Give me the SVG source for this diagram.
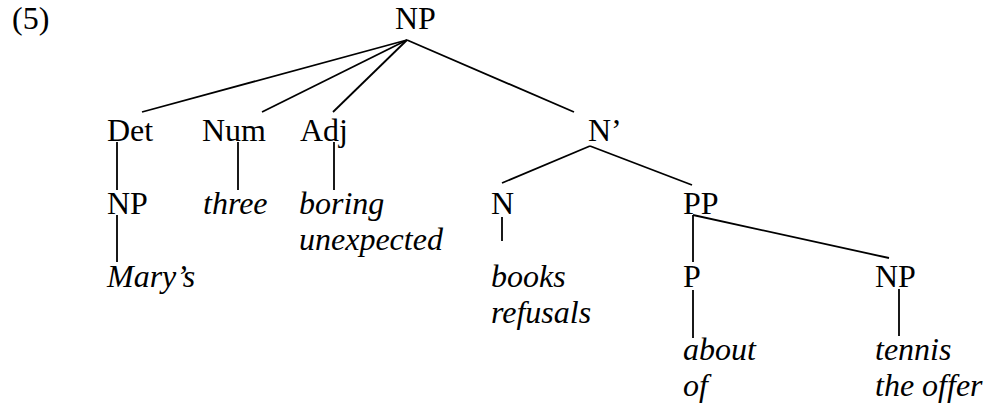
<svg xmlns="http://www.w3.org/2000/svg" width="984" height="406" viewBox="0 0 984 406">
<style>
text{font-family:"Liberation Serif","Times New Roman",serif;font-size:32px;fill:#000}
.i{font-style:italic}
.e line{stroke:#000;stroke-width:1.8;stroke-linecap:butt}
</style>
<rect width="984" height="406" fill="#fff"/>
<text x="12" y="29">(5)</text>
<g class="e" id="connectors">
<line x1="407" y1="40" x2="142" y2="112"/>
<line x1="407" y1="40" x2="262" y2="112"/>
<line x1="407" y1="40" x2="333" y2="112"/>
<line x1="407" y1="40" x2="574" y2="112"/>
<line x1="117" y1="142" x2="117" y2="190"/>
<line x1="238" y1="142" x2="238" y2="190"/>
<line x1="334" y1="142" x2="334" y2="190"/>
<line x1="117" y1="215" x2="117" y2="262"/>
<line x1="590" y1="146" x2="502" y2="183"/>
<line x1="590" y1="146" x2="692" y2="185"/>
<line x1="502" y1="217" x2="502" y2="241"/>
<line x1="693" y1="215" x2="693" y2="262"/>
<line x1="693" y1="215" x2="889" y2="258"/>
<line x1="693" y1="290" x2="693" y2="338"/>
<line x1="899" y1="289" x2="899" y2="336"/>
</g>
<g id="np-root"><text x="395" y="29">NP</text></g>
<g id="det"><text x="107" y="141">Det</text></g>
<g id="num"><text x="202" y="141">Num</text></g>
<g id="adj"><text x="300" y="141">Adj</text></g>
<g id="nbar"><text x="588" y="141">N’</text></g>
<g id="np-det"><text x="107" y="214">NP</text></g>
<g id="marys"><text class="i" x="107" y="287">Mary’s</text></g>
<g id="three"><text class="i" x="203" y="214">three</text></g>
<g id="boring"><text class="i" x="299" y="214">boring</text><text class="i" x="299" y="250">unexpected</text></g>
<g id="n"><text x="491" y="214">N</text></g>
<g id="books"><text class="i" x="491" y="287">books</text><text class="i" x="491" y="323">refusals</text></g>
<g id="pp"><text x="683" y="214">PP</text></g>
<g id="p"><text x="683" y="287">P</text></g>
<g id="about"><text class="i" x="683" y="360">about</text><text class="i" x="683" y="396">of</text></g>
<g id="np-obj"><text x="875" y="287">NP</text></g>
<g id="tennis"><text class="i" x="875" y="360">tennis</text><text class="i" x="875" y="396">the offer</text></g>
</svg>
